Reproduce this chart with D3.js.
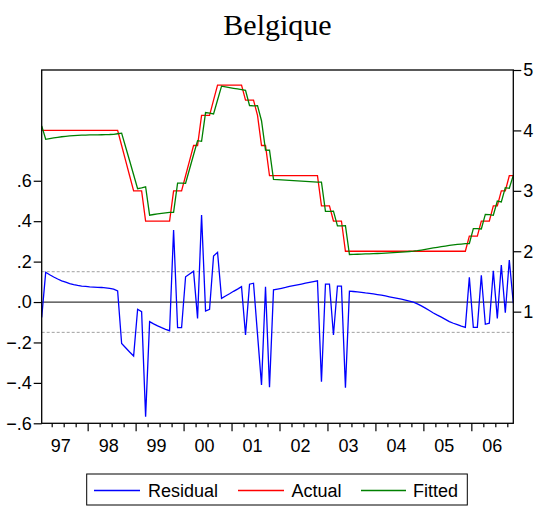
<!DOCTYPE html>
<html>
<head>
<meta charset="utf-8">
<script src="https://cdn.jsdelivr.net/npm/d3@7/dist/d3.min.js"></script>
<style>
  body { margin: 0; background: #fff; }
  svg { display: block; }
  text { font-family: "Liberation Sans", Arial, sans-serif; }
</style>
</head>
<body>
<script>
// Monthly series, 1997M01 .. 2006M11
const chartTitle = "Belgique";
const firstYear = 1997;

const actual = [
  4.00, 4.00, 4.00, 4.00, 4.00, 4.00, 4.00, 4.00, 4.00, 4.00,
  4.00, 4.00, 4.00, 4.00, 4.00, 4.00, 4.00, 4.00, 4.00, 4.00,
  3.75, 3.50, 3.25, 3.00, 3.00, 3.00, 2.50, 2.50, 2.50, 2.50,
  2.50, 2.50, 2.50, 3.00, 3.00, 3.00, 3.25, 3.50, 3.75, 3.75,
  4.25, 4.25, 4.25, 4.50, 4.75, 4.75, 4.75, 4.75, 4.75, 4.75,
  4.75, 4.50, 4.50, 4.50, 4.25, 3.75, 3.75, 3.25, 3.25, 3.25,
  3.25, 3.25, 3.25, 3.25, 3.25, 3.25, 3.25, 3.25, 3.25, 3.25,
  2.75, 2.75, 2.75, 2.50, 2.50, 2.50, 2.00, 2.00, 2.00, 2.00,
  2.00, 2.00, 2.00, 2.00, 2.00, 2.00, 2.00, 2.00, 2.00, 2.00,
  2.00, 2.00, 2.00, 2.00, 2.00, 2.00, 2.00, 2.00, 2.00, 2.00,
  2.00, 2.00, 2.00, 2.00, 2.00, 2.00, 2.00, 2.25, 2.25, 2.25,
  2.50, 2.50, 2.50, 2.75, 2.75, 3.00, 3.00, 3.25, 3.25
];

const fitted = [
  4.076, 3.853, 3.865, 3.876, 3.886, 3.895, 3.902, 3.909, 3.914, 3.918,
  3.921, 3.923, 3.925, 3.926, 3.927, 3.928, 3.930, 3.932, 3.936, 3.945,
  3.955, 3.726, 3.497, 3.267, 3.036, 3.048, 3.067, 2.597, 2.608, 2.618,
  2.627, 2.635, 2.642, 2.644, 3.127, 3.127, 3.125, 3.361, 3.597, 3.831,
  3.820, 4.295, 4.286, 4.272, 4.504, 4.732, 4.720, 4.709, 4.697, 4.686,
  4.674, 4.663, 4.412, 4.407, 4.410, 4.160, 3.674, 3.672, 3.190, 3.186,
  3.182, 3.178, 3.173, 3.169, 3.165, 3.161, 3.157, 3.153, 3.149, 3.145,
  3.144, 2.661, 2.661, 2.663, 2.421, 2.421, 2.424, 1.946, 1.948, 1.950,
  1.952, 1.955, 1.957, 1.960, 1.963, 1.966, 1.970, 1.974, 1.978, 1.982,
  1.986, 1.991, 1.996, 2.001, 2.009, 2.019, 2.030, 2.042, 2.054, 2.065,
  2.075, 2.086, 2.097, 2.105, 2.112, 2.119, 2.125, 2.128, 2.375, 2.375,
  2.368, 2.610, 2.605, 2.595, 2.831, 2.817, 3.053, 3.042, 3.256
];

const residual = [
  -0.076, 0.147, 0.135, 0.124, 0.114, 0.105, 0.098, 0.091, 0.086, 0.082,
  0.079, 0.077, 0.075, 0.074, 0.073, 0.072, 0.070, 0.068, 0.064, 0.055,
  -0.205, -0.226, -0.247, -0.267, -0.036, -0.048, -0.567, -0.097, -0.108, -0.118,
  -0.127, -0.135, -0.142, 0.356, -0.127, -0.127, 0.125, 0.139, 0.153, -0.081,
  0.430, -0.045, -0.036, 0.228, 0.246, 0.018, 0.030, 0.041, 0.053, 0.064,
  0.076, -0.163, 0.088, 0.093, -0.160, -0.410, 0.076, -0.422, 0.060, 0.064,
  0.068, 0.072, 0.077, 0.081, 0.085, 0.089, 0.093, 0.097, 0.101, 0.105,
  -0.394, 0.089, 0.089, -0.163, 0.079, 0.079, -0.424, 0.054, 0.052, 0.050,
  0.048, 0.045, 0.043, 0.040, 0.037, 0.034, 0.030, 0.026, 0.022, 0.018,
  0.014, 0.009, 0.004, -0.001, -0.009, -0.019, -0.030, -0.042, -0.054, -0.065,
  -0.075, -0.086, -0.097, -0.105, -0.112, -0.119, -0.125, 0.122, -0.125, -0.125,
  0.132, -0.110, -0.105, 0.155, -0.081, 0.183, -0.053, 0.208, -0.006
];

const residualTicks = [-0.6, -0.4, -0.2, 0, 0.2, 0.4, 0.6];
const levelTicks = [1, 2, 3, 4, 5];
const yearLabels = ["97", "98", "99", "00", "01", "02", "03", "04", "05", "06"];
const standardError = 0.15;

const seriesInfo = [
  { name: "Residual", color: "#0000ff" },
  { name: "Actual",   color: "#ff0000" },
  { name: "Fitted",   color: "#008000" }
];

const W = 534, H = 506;
const frame = { left: 41.7, right: 513.3, top: 70, bottom: 423.3 };

const svg = d3.select("body").append("svg")
  .attr("width", W).attr("height", H);

// observation i sits in the middle of its month
const obsYear = i => firstYear + (i + 0.5) / 12;
const n = actual.length;

const x = d3.scaleLinear()
  .domain([obsYear(0), obsYear(n - 1)])
  .range([frame.left, frame.right]);

const yRes = d3.scaleLinear().domain([-0.6, 1.148]).range([frame.bottom, frame.top]);
const yLev = d3.scaleLinear().domain([-0.848, 5.0]).range([frame.bottom, frame.top]);

// title
svg.append("text")
  .attr("x", (frame.left + frame.right) / 2)
  .attr("y", 35)
  .attr("text-anchor", "middle")
  .style("font-family", "'Liberation Serif', 'Times New Roman', serif")
  .style("font-size", "30px")
  .attr("fill", "#000")
  .text(chartTitle);

const plot = svg.append("g");

// zero line and +/- one standard error bands of the residual
plot.append("line")
  .attr("x1", frame.left).attr("x2", frame.right)
  .attr("y1", yRes(0)).attr("y2", yRes(0))
  .attr("stroke", "#3a3a3a").attr("stroke-width", 1.2);

[standardError, -standardError].forEach(v => {
  plot.append("line")
    .attr("x1", frame.left).attr("x2", frame.right)
    .attr("y1", yRes(v)).attr("y2", yRes(v))
    .attr("stroke", "#a0a0a0").attr("stroke-width", 1)
    .attr("stroke-dasharray", "3,2");
});

const idx = d3.range(n);

const lineRes = d3.line().x(i => x(obsYear(i))).y(i => yRes(residual[i]));
const lineAct = d3.line().x(i => x(obsYear(i))).y(i => yLev(actual[i]));
const lineFit = d3.line().x(i => x(obsYear(i))).y(i => yLev(fitted[i]));

plot.append("path").datum(idx).attr("d", lineRes)
  .attr("fill", "none").attr("stroke", seriesInfo[0].color).attr("stroke-width", 1.3);
plot.append("path").datum(idx).attr("d", lineAct)
  .attr("fill", "none").attr("stroke", seriesInfo[1].color).attr("stroke-width", 1.3);
plot.append("path").datum(idx).attr("d", lineFit)
  .attr("fill", "none").attr("stroke", seriesInfo[2].color).attr("stroke-width", 1.3);

// frame
svg.append("rect")
  .attr("x", frame.left).attr("y", frame.top)
  .attr("width", frame.right - frame.left).attr("height", frame.bottom - frame.top)
  .attr("fill", "none").attr("stroke", "#000").attr("stroke-width", 1.3);

const tickFmt = v => {
  const s = d3.format(".1f")(v);
  return s.replace("0.", ".");
};

// left axis (residual)
const axL = svg.append("g")
  .attr("transform", `translate(${frame.left},0)`)
  .call(d3.axisLeft(yRes).tickValues(residualTicks).tickFormat(tickFmt)
        .tickSize(8).tickPadding(2).tickSizeOuter(0));

// right axis (levels)
const axR = svg.append("g")
  .attr("transform", `translate(${frame.right},0)`)
  .call(d3.axisRight(yLev).tickValues(levelTicks).tickFormat(d3.format("d"))
        .tickSize(8).tickPadding(2).tickSizeOuter(0));

// bottom axis: quarterly minor ticks, yearly major ticks
const years = d3.range(firstYear, firstYear + yearLabels.length + 1);
const quarters = [];
years.forEach(yv => [0.25, 0.5, 0.75].forEach(q => quarters.push(yv + q)));
const inFrame = v => x(v) >= frame.left - 0.01 && x(v) <= frame.right + 0.01;

const axMinor = svg.append("g")
  .attr("transform", `translate(0,${frame.bottom})`)
  .call(d3.axisBottom(x).tickValues(quarters.filter(inFrame)).tickFormat("")
        .tickSize(4).tickSizeOuter(0));
const axMajor = svg.append("g")
  .attr("transform", `translate(0,${frame.bottom})`)
  .call(d3.axisBottom(x).tickValues(years.filter(inFrame)).tickFormat("")
        .tickSize(8).tickSizeOuter(0));

[axL, axR, axMinor, axMajor].forEach(g => {
  g.select(".domain").remove();
  g.selectAll(".tick line").attr("stroke", "#000").attr("stroke-width", 1.2);
  g.selectAll(".tick text")
    .style("font-family", "'Liberation Sans', Arial, sans-serif")
    .style("font-size", "18px").attr("fill", "#000");
});

// year labels centred within each year
svg.append("g").selectAll("text").data(yearLabels).join("text")
  .attr("x", (d, i) => x(firstYear + i) + 21)
  .attr("y", 451.5)
  .attr("text-anchor", "middle")
  .style("font-size", "18px")
  .attr("fill", "#000")
  .text(d => d);

// legend
const legend = svg.append("g");
legend.append("rect")
  .attr("x", 86.7).attr("y", 474).attr("width", 380.6).attr("height", 31)
  .attr("fill", "#fff").attr("stroke", "#000").attr("stroke-width", 1);

const legendItems = [
  { x1: 94, x2: 140, tx: 148 },
  { x1: 238, x2: 284, tx: 291.5 },
  { x1: 361, x2: 406, tx: 413 }
];
legendItems.forEach((li, k) => {
  legend.append("line")
    .attr("x1", li.x1).attr("x2", li.x2).attr("y1", 490.5).attr("y2", 490.5)
    .attr("stroke", seriesInfo[k].color).attr("stroke-width", 1.3);
  legend.append("text")
    .attr("x", li.tx).attr("y", 497.3)
    .style("font-size", "18px").attr("fill", "#000")
    .text(seriesInfo[k].name);
});
</script>
</body>
</html>
